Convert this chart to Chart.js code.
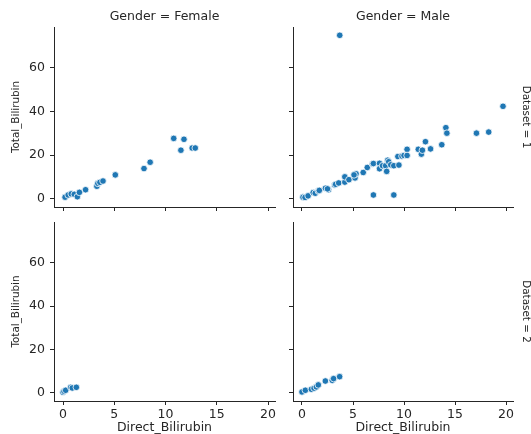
<!DOCTYPE html>
<html>
<head>
<meta charset="utf-8">
<script src="https://cdn.jsdelivr.net/npm/chart.js@4"></script>
<style>
  body{margin:0;background:#fff;overflow:hidden;width:531px;height:434px;}
  canvas{position:absolute;}
</style>
</head>
<body>
<canvas id="c11" width="280" height="214" style="left:0;top:0"></canvas>
<canvas id="c12" width="251" height="214" style="left:280px;top:0"></canvas>
<canvas id="c21" width="280" height="220" style="left:0;top:214px"></canvas>
<canvas id="c22" width="251" height="220" style="left:280px;top:214px"></canvas>
<script>
// facet labels
const colTitles = ['Gender = Female', 'Gender = Male'];
const rowTitles = ['Dataset = 1', 'Dataset = 2'];
const xLabel = 'Direct_Bilirubin';
const yLabel = 'Total_Bilirubin';
const xTicks = [0, 5, 10, 15, 20];
const yTicks = [0, 20, 40, 60];

// Dataset 1, Female
const f1x = [0.2,0.5,0.8,1.1,1.4,1.6,2.2,3.3,3.4,3.6,3.9,5.1,7.9,8.5,10.8,11.5,11.8,12.6,12.9];
const f1y = [0.8,1.8,2.3,2.1,1.0,3.0,4.2,5.8,7.1,7.6,8.2,11.0,13.9,16.8,27.7,22.3,27.3,23.3,23.3];
// Dataset 1, Male
const m1x = [0.1,0.3,0.6,1.1,1.3,1.6,1.7,2.3,2.6,2.5,3.2,3.3,3.6,3.7,4.2,4.2,4.6,5.2,5.3,5.1,6.0,6.4,6.9,7.0,7.0,7.6,7.6,7.9,8.2,8.3,8.4,8.5,8.7,9.0,9.0,9.4,9.5,9.8,10.0,10.3,10.3,11.4,11.7,11.8,12.1,12.6,13.7,14.1,14.2,17.1,18.3,19.7];
const m1y = [0.8,0.7,1.4,2.9,2.6,3.6,3.9,4.9,4.2,4.6,6.4,6.7,7.3,74.9,7.7,10.1,8.8,9.6,11.5,11.0,12.1,14.4,16.0,16.2,1.8,16.3,13.8,15.2,15.2,12.6,17.7,17.0,15.6,15.2,1.8,19.4,15.5,19.6,19.9,22.7,19.9,22.7,20.5,22.3,26.2,22.9,24.8,32.6,30.1,30.1,30.6,42.4];
// Dataset 2, Female
const f2x = [0.0,0.1,0.26,0.75,0.9,1.3];
const f2y = [0.3,0.8,1.24,2.6,2.3,2.6];
// Dataset 2, Male
const m2x = [0.0,0.33,0.92,1.18,1.41,1.6,2.29,2.97,3.1,3.69];
const m2y = [0.46,1.24,1.7,2.2,2.8,3.7,5.5,5.8,6.6,7.5];

const ink = '#262626';
const hFont = {family:'DejaVu Sans', size:12.5, lineHeight:1};
const vFont = {family:'DejaVu Sans', size:10.4, lineHeight:1};

function pts(xs, ys){ return xs.map((x,i)=>({x:x, y:ys[i]})); }

function facet(id, xs, ys, o){
  const scales = {
    x: {
      type:'linear', min:-0.88, max:20.68,
      afterBuildTicks: s=>{ s.ticks = xTicks.map(v=>({value:v})); },
      afterFit: s=>{ s.height = o.bottomH; s.paddingLeft = 0; s.paddingRight = 0; },
      grid:{drawOnChartArea:false, tickLength:4, tickColor:ink, tickWidth:1},
      border:{color:ink, width:1},
      ticks:{display:o.xLabels, color:ink, font:hFont, padding:3, maxRotation:0},
      title:{display:o.xLabels, text:xLabel, color:ink, font:hFont, padding:{top:0,bottom:0}}
    },
    y: {
      type:'linear', min:-3.7, max:78.7,
      afterBuildTicks: s=>{ s.ticks = yTicks.map(v=>({value:v})); },
      afterFit: s=>{ s.width = o.leftW; s.paddingTop = 0; s.paddingBottom = 0; },
      grid:{drawOnChartArea:false, tickLength:4, tickColor:ink, tickWidth:1},
      border:{color:ink, width:1},
      ticks:{display:o.yLabels, color:ink, font:hFont, padding:5},
      title:{display:o.yLabels, text:yLabel, color:ink, font:vFont, padding:{top:11,bottom:0}}
    }
  };
  if(o.colTitle){
    scales.xt = {
      type:'linear', position:'top', min:0, max:1,
      afterFit: s=>{ s.height = 27; },
      grid:{display:false}, border:{display:false}, ticks:{display:false},
      title:{display:true, text:o.colTitle, color:ink, font:hFont, padding:{top:10,bottom:0}}
    };
  }
  if(o.rowTitle){
    scales.yr = {
      type:'linear', position:'right', min:0, max:1,
      afterFit: s=>{ s.width = o.rightW; },
      grid:{display:false}, border:{display:false}, ticks:{display:false},
      title:{display:true, text:o.rowTitle, color:ink, font:vFont, padding:{top:0,bottom:0}}
    };
  }
  new Chart(document.getElementById(id), {
    type:'scatter',
    data:{datasets:[{data:pts(xs, ys), xAxisID:'x', yAxisID:'y',
      backgroundColor:'#1f77b4', borderColor:'#ffffff', borderWidth:0.8, pointRadius:3.3, pointHoverRadius:3.3}]},
    options:{
      responsive:false, animation:false, devicePixelRatio:1,
      layout:{padding:{top:o.padTop, right:o.padRight, left:0, bottom:0}},
      plugins:{legend:{display:false}, tooltip:{enabled:false}},
      scales:scales
    }
  });
}

facet('c11', f1x, f1y, {leftW:54, bottomH:7, padTop:0, padRight:5, xLabels:false, yLabels:true, colTitle:colTitles[0]});
facet('c12', m1x, m1y, {leftW:13, bottomH:7, padTop:0, padRight:0, rightW:18, xLabels:false, yLabels:false, colTitle:colTitles[1], rowTitle:rowTitles[0]});
facet('c21', f2x, f2y, {leftW:54, bottomH:33, padTop:8, padRight:5, xLabels:true, yLabels:true});
facet('c22', m2x, m2y, {leftW:13, bottomH:33, padTop:8, padRight:0, rightW:18, xLabels:true, yLabels:false, rowTitle:rowTitles[1]});
</script>
</body>
</html>
